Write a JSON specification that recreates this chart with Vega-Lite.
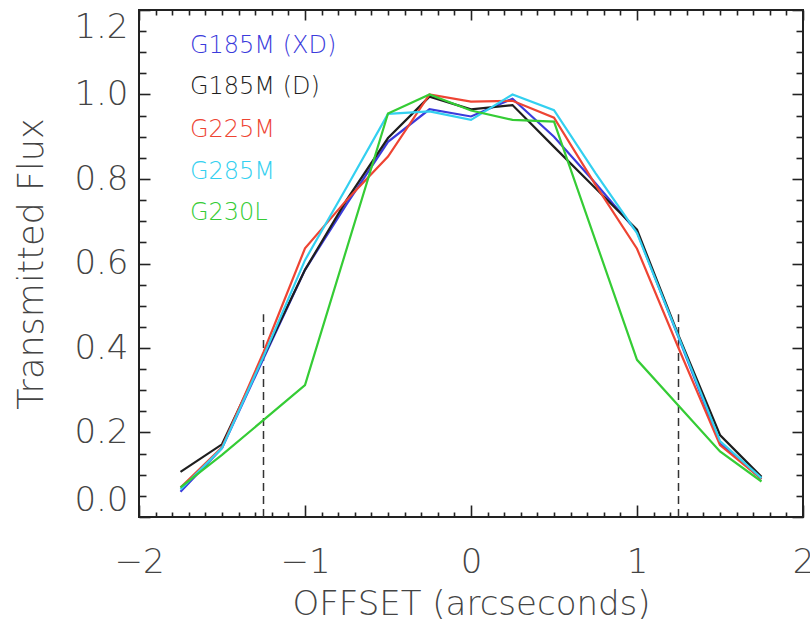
{
  "$schema": "https://vega.github.io/schema/vega-lite/v6.json",
  "width": 664,
  "height": 507,
  "autosize": "none",
  "padding": {"left": 139, "top": 10, "right": 7, "bottom": 111},
  "background": "white",
  "config": {
    "view": {"stroke": "#222222", "strokeWidth": 2},
    "font": "DejaVu Sans",
    "axis": {"grid": false, "domain": false, "tickColor": "#222222", "tickWidth": 1.6}
  },
  "datasets": {
    "curves": [
      {"grating": "G185M (XD)", "arcsec": -1.75, "flux": 0.06},
      {"grating": "G185M (XD)", "arcsec": -1.5, "flux": 0.163},
      {"grating": "G185M (XD)", "arcsec": -1.25, "flux": 0.375},
      {"grating": "G185M (XD)", "arcsec": -1.0, "flux": 0.585},
      {"grating": "G185M (XD)", "arcsec": -0.75, "flux": 0.74},
      {"grating": "G185M (XD)", "arcsec": -0.5, "flux": 0.888},
      {"grating": "G185M (XD)", "arcsec": -0.25, "flux": 0.965},
      {"grating": "G185M (XD)", "arcsec": 0.0, "flux": 0.948},
      {"grating": "G185M (XD)", "arcsec": 0.25, "flux": 0.99},
      {"grating": "G185M (XD)", "arcsec": 0.5, "flux": 0.9},
      {"grating": "G185M (XD)", "arcsec": 0.75, "flux": 0.79},
      {"grating": "G185M (XD)", "arcsec": 1.0, "flux": 0.675},
      {"grating": "G185M (XD)", "arcsec": 1.25, "flux": 0.425},
      {"grating": "G185M (XD)", "arcsec": 1.5, "flux": 0.174},
      {"grating": "G185M (XD)", "arcsec": 1.75, "flux": 0.09},
      {"grating": "G185M (D)", "arcsec": -1.75, "flux": 0.107},
      {"grating": "G185M (D)", "arcsec": -1.5, "flux": 0.172},
      {"grating": "G185M (D)", "arcsec": -1.25, "flux": 0.38},
      {"grating": "G185M (D)", "arcsec": -1.0, "flux": 0.585},
      {"grating": "G185M (D)", "arcsec": -0.75, "flux": 0.75},
      {"grating": "G185M (D)", "arcsec": -0.5, "flux": 0.897},
      {"grating": "G185M (D)", "arcsec": -0.25, "flux": 0.995},
      {"grating": "G185M (D)", "arcsec": 0.0, "flux": 0.965},
      {"grating": "G185M (D)", "arcsec": 0.25, "flux": 0.975},
      {"grating": "G185M (D)", "arcsec": 0.5, "flux": 0.876},
      {"grating": "G185M (D)", "arcsec": 0.75, "flux": 0.778},
      {"grating": "G185M (D)", "arcsec": 1.0, "flux": 0.68},
      {"grating": "G185M (D)", "arcsec": 1.25, "flux": 0.43},
      {"grating": "G185M (D)", "arcsec": 1.5, "flux": 0.194},
      {"grating": "G185M (D)", "arcsec": 1.75, "flux": 0.095},
      {"grating": "G225M", "arcsec": -1.75, "flux": 0.07},
      {"grating": "G225M", "arcsec": -1.5, "flux": 0.165},
      {"grating": "G225M", "arcsec": -1.25, "flux": 0.39},
      {"grating": "G225M", "arcsec": -1.0, "flux": 0.636},
      {"grating": "G225M", "arcsec": -0.75, "flux": 0.75},
      {"grating": "G225M", "arcsec": -0.5, "flux": 0.853},
      {"grating": "G225M", "arcsec": -0.25, "flux": 1.0},
      {"grating": "G225M", "arcsec": 0.0, "flux": 0.983},
      {"grating": "G225M", "arcsec": 0.25, "flux": 0.985},
      {"grating": "G225M", "arcsec": 0.5, "flux": 0.945},
      {"grating": "G225M", "arcsec": 0.75, "flux": 0.786},
      {"grating": "G225M", "arcsec": 1.0, "flux": 0.635},
      {"grating": "G225M", "arcsec": 1.25, "flux": 0.4},
      {"grating": "G225M", "arcsec": 1.5, "flux": 0.17},
      {"grating": "G225M", "arcsec": 1.75, "flux": 0.09},
      {"grating": "G285M", "arcsec": -1.75, "flux": 0.065},
      {"grating": "G285M", "arcsec": -1.5, "flux": 0.163},
      {"grating": "G285M", "arcsec": -1.25, "flux": 0.38},
      {"grating": "G285M", "arcsec": -1.0, "flux": 0.608},
      {"grating": "G285M", "arcsec": -0.75, "flux": 0.78},
      {"grating": "G285M", "arcsec": -0.5, "flux": 0.954},
      {"grating": "G285M", "arcsec": -0.25, "flux": 0.96},
      {"grating": "G285M", "arcsec": 0.0, "flux": 0.94},
      {"grating": "G285M", "arcsec": 0.25, "flux": 1.0},
      {"grating": "G285M", "arcsec": 0.5, "flux": 0.963},
      {"grating": "G285M", "arcsec": 0.75, "flux": 0.814},
      {"grating": "G285M", "arcsec": 1.0, "flux": 0.672},
      {"grating": "G285M", "arcsec": 1.25, "flux": 0.427},
      {"grating": "G285M", "arcsec": 1.5, "flux": 0.18},
      {"grating": "G285M", "arcsec": 1.75, "flux": 0.092},
      {"grating": "G230L", "arcsec": -1.75, "flux": 0.07},
      {"grating": "G230L", "arcsec": -1.5, "flux": 0.147},
      {"grating": "G230L", "arcsec": -1.0, "flux": 0.312},
      {"grating": "G230L", "arcsec": -0.5, "flux": 0.955},
      {"grating": "G230L", "arcsec": -0.25, "flux": 1.0},
      {"grating": "G230L", "arcsec": 0.0, "flux": 0.962},
      {"grating": "G230L", "arcsec": 0.25, "flux": 0.94},
      {"grating": "G230L", "arcsec": 0.5, "flux": 0.936},
      {"grating": "G230L", "arcsec": 1.0, "flux": 0.372},
      {"grating": "G230L", "arcsec": 1.5, "flux": 0.155},
      {"grating": "G230L", "arcsec": 1.75, "flux": 0.084}
    ],
    "limits": [
      {"arcsec": -1.25, "lo": 0.0, "hi": 0.48},
      {"arcsec": 1.25, "lo": 0.0, "hi": 0.48}
    ],
    "names": [
      {"grating": "G185M (XD)", "lx": -1.693, "ly": 1.115},
      {"grating": "G185M (D)", "lx": -1.693, "ly": 1.018},
      {"grating": "G225M", "lx": -1.693, "ly": 0.916},
      {"grating": "G285M", "lx": -1.693, "ly": 0.817},
      {"grating": "G230L", "lx": -1.693, "ly": 0.72}
    ]
  },
  "layer": [
    {
      "data": {"name": "limits"},
      "mark": {"type": "rule", "color": "#333333", "strokeWidth": 1.5, "strokeDash": [8, 5]},
      "encoding": {
        "x": {
          "field": "arcsec", "type": "quantitative",
          "scale": {"domain": [-2, 2], "nice": false, "zero": false},
          "axis": {"orient": "top", "title": null, "labels": false, "values": [-2, -1, 0, 1, 2], "offset": -10, "tickSize": 10}
        },
        "y": {
          "field": "lo", "type": "quantitative",
          "scale": {"domain": [0, 1.2], "nice": false},
          "axis": {"orient": "right", "title": null, "labels": false, "values": [0, 0.2, 0.4, 0.6, 0.8, 1.0, 1.2], "offset": -11, "tickSize": 11}
        },
        "y2": {"field": "hi"}
      }
    },
    {
      "data": {"name": "limits"},
      "mark": {"type": "rule", "opacity": 0},
      "encoding": {
        "x": {
          "field": "arcsec", "type": "quantitative",
          "axis": {"orient": "top", "title": null, "labels": false,
            "values": [-1.9,-1.8,-1.7,-1.6,-1.5,-1.4,-1.3,-1.2,-1.1,-0.9,-0.8,-0.7,-0.6,-0.5,-0.4,-0.3,-0.2,-0.1,0.1,0.2,0.3,0.4,0.5,0.6,0.7,0.8,0.9,1.1,1.2,1.3,1.4,1.5,1.6,1.7,1.8,1.9],
            "offset": -5, "tickSize": 5}
        },
        "y": {
          "field": "lo", "type": "quantitative",
          "axis": {"orient": "right", "title": null, "labels": false,
            "values": [0.05,0.1,0.15,0.25,0.3,0.35,0.45,0.5,0.55,0.65,0.7,0.75,0.85,0.9,0.95,1.05,1.1,1.15],
            "offset": -7, "tickSize": 7}
        }
      }
    },
    {
      "data": {"name": "limits"},
      "mark": {"type": "rule", "opacity": 0},
      "encoding": {
        "x": {
          "field": "arcsec", "type": "quantitative",
          "axis": {"orient": "bottom", "title": null, "labels": false,
            "values": [-1.9,-1.8,-1.7,-1.6,-1.5,-1.4,-1.3,-1.2,-1.1,-0.9,-0.8,-0.7,-0.6,-0.5,-0.4,-0.3,-0.2,-0.1,0.1,0.2,0.3,0.4,0.5,0.6,0.7,0.8,0.9,1.1,1.2,1.3,1.4,1.5,1.6,1.7,1.8,1.9],
            "offset": -5, "tickSize": 5}
        },
        "y": {
          "field": "lo", "type": "quantitative",
          "axis": {"orient": "left", "title": null, "labels": false,
            "values": [0.05,0.1,0.15,0.25,0.3,0.35,0.45,0.5,0.55,0.65,0.7,0.75,0.85,0.9,0.95,1.05,1.1,1.15],
            "offset": -7, "tickSize": 7}
        }
      }
    },
    {
      "data": {"name": "curves"},
      "mark": {"type": "line", "strokeWidth": 2.2},
      "encoding": {
        "x": {
          "field": "arcsec", "type": "quantitative",
          "axis": {
            "orient": "bottom", "title": "OFFSET (arcseconds)",
            "values": [-2, -1, 0, 1, 2],
            "labelExpr": "datum.value < 0 ? '\u2212' + abs(datum.value) : '' + datum.value",
            "labelFlush": false, "labelOverlap": false, "labelBound": false,
            "labelFont": "DejaVu Sans", "labelFontSize": 34, "labelFontWeight": 200, "labelColor": "#444444",
            "offset": -12, "tickSize": 12, "labelPadding": 28,
            "titleFont": "DejaVu Sans", "titleFontSize": 34, "titleFontWeight": 200, "titleColor": "#444444",
            "titlePadding": 8
          }
        },
        "y": {
          "field": "flux", "type": "quantitative",
          "axis": {
            "orient": "left", "title": "Transmitted Flux",
            "values": [0, 0.2, 0.4, 0.6, 0.8, 1.0, 1.2],
            "format": ".1f",
            "labelFlush": true, "labelOverlap": false, "labelBound": false,
            "labelFont": "DejaVu Sans", "labelFontSize": 34, "labelFontWeight": 200, "labelColor": "#444444",
            "offset": -11, "tickSize": 11, "labelPadding": 11,
            "titleFont": "DejaVu Sans", "titleFontSize": 35, "titleFontWeight": 200, "titleColor": "#444444",
            "titlePadding": 24
          }
        },
        "color": {
          "field": "grating", "type": "nominal",
          "scale": {
            "domain": ["G185M (XD)", "G185M (D)", "G225M", "G285M", "G230L"],
            "range": ["#3b3bdc", "#1e1e1e", "#ee4433", "#33d0f0", "#35cc35"]
          },
          "legend": null
        },
        "order": {"field": "arcsec", "type": "quantitative"}
      }
    },
    {
      "data": {"name": "names"},
      "mark": {"type": "text", "align": "left", "baseline": "middle", "font": "DejaVu Sans", "fontSize": 24, "fontWeight": 200},
      "encoding": {
        "x": {"field": "lx", "type": "quantitative", "axis": null},
        "y": {"field": "ly", "type": "quantitative", "axis": null},
        "text": {"field": "grating"},
        "color": {"field": "grating", "type": "nominal", "legend": null}
      }
    }
  ],
  "resolve": {"axis": {"x": "independent", "y": "independent"}}
}
